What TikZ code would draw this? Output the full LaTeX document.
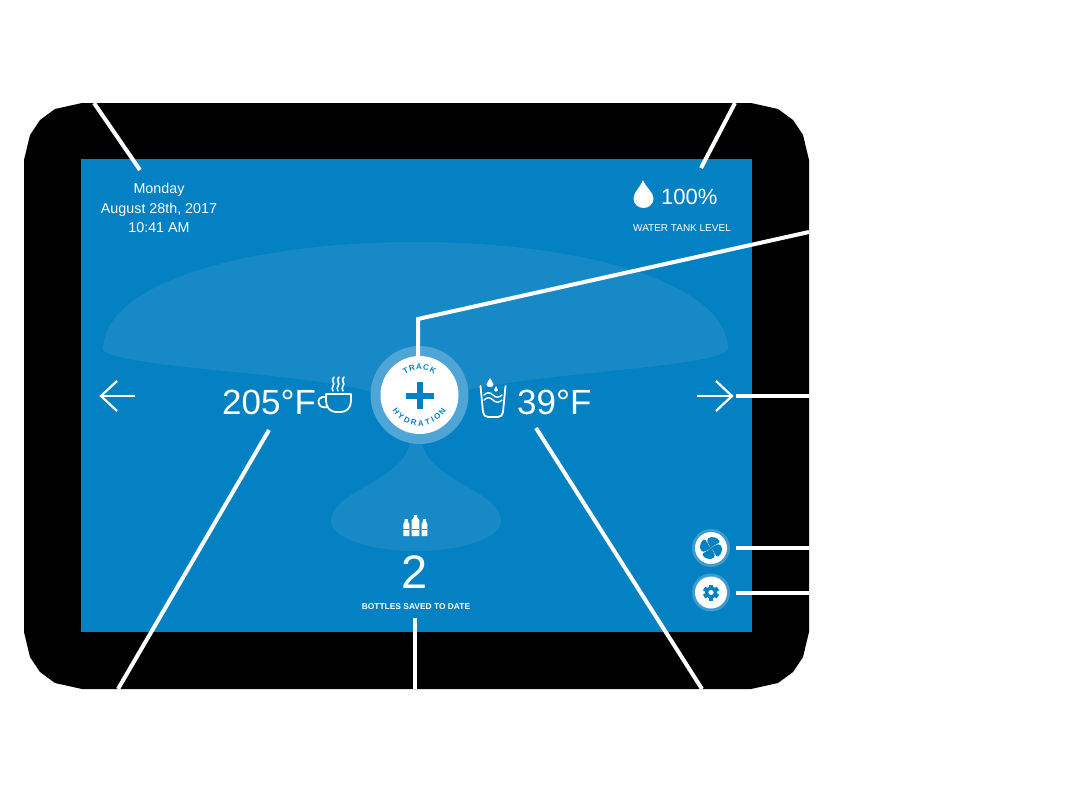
\documentclass[tikz,border=0pt]{standalone}
\usepackage{fontspec}
\setmainfont{Liberation Sans}
\usetikzlibrary{decorations.text,arrows.meta}
\definecolor{scr}{HTML}{0381C2}
\definecolor{wave}{HTML}{1789C7}
\definecolor{halo}{HTML}{4FA5D5}
\definecolor{halob}{HTML}{3D9BD0}
\tikzset{
 callout/.style={draw=white,line width=4pt},
 lbl/.style={text=white,inner sep=0pt,align=center},
 iconw/.style={draw=white,line width=1.8pt,fill=none,line cap=round,line join=round},
 arrowline/.style={draw=white,line width=2.2pt,line join=miter},
 hal/.style={fill=halo,draw=none},
 disc/.style={fill=white,draw=none},
 numtxt/.style={lbl,font=\fontsize{35}{35}\selectfont}
}
\begin{document}
\begin{tikzpicture}[x=1pt,y=-1pt]
\useasboundingbox (0,0) rectangle (1075,798);
\fill[white] (0,0) rectangle (1075,798);
% tablet body
\fill[black] (82,103) -- (751,103) -- (778,109) -- (793,120) -- (803,135) -- (809,160) -- (809,632) -- (803,657) -- (793,672) -- (778,683) -- (751,689) -- (82,689) -- (55,683) -- (40,672) -- (30,657) -- (24,632) -- (24,160) -- (30,135) -- (40,120) -- (55,109) -- cycle;
\fill[scr] (81,159) rectangle (752,632);
% water drop backdrop
\fill[wave] (416,242) .. controls (250,242) and (103,282) .. (103,350)
  .. controls (120,368) and (300,372) .. (372,392) -- (460,392)
  .. controls (540,372) and (710,368) .. (728,350)
  .. controls (728,282) and (580,242) .. (416,242) -- cycle;
\fill[wave] (410,440) .. controls (408,480) and (331,490) .. (331,521)
  .. controls (331,538) and (370,551) .. (416,551)
  .. controls (462,551) and (501,538) .. (501,521)
  .. controls (501,490) and (424,480) .. (422,440) -- cycle;
% centre button
\node[circle,minimum size=98pt,inner sep=0pt,hal] (track) at (419.5,395) {};
\node[circle,minimum size=78pt,inner sep=0pt,disc] (trackdisc) at (419.5,395) {};
\fill[scr] (406,392.5) rectangle (434,398.5);
\fill[scr] (417,382) rectangle (423,409);
\path[postaction={decorate,decoration={text along path,text align={fit to path},
   text={|\fontsize{8}{8}\selectfont\bfseries\color{scr}|TRACK}}}]
   (405,374.3) arc[start angle=236,end angle=304,radius=26];
\path[postaction={decorate,decoration={text along path,text align={fit to path},
   text={|\fontsize{8}{8}\selectfont\bfseries\color{scr}|HYDRATION}}}]
   (392.5,410.5) arc[start angle=150,end angle=30,radius=31];
% texts
\node[lbl,font=\fontsize{14.3}{19.5}\selectfont] (date) at (159,208) {Monday\\August 28th, 2017\\10:41 AM};
\node[lbl,font=\fontsize{22}{22}\selectfont,anchor=base west] (tank) at (661,204) {100\%};
\node[lbl,font=\fontsize{10}{10}\selectfont] (tanklabel) at (682,228) {WATER TANK LEVEL};
\node[numtxt,anchor=base west] (hot) at (222,414) {205°F};
\node[numtxt,anchor=base west] (cold) at (517,414) {39°F};
\node[lbl,font=\fontsize{47}{47}\selectfont,anchor=base] (count) at (415,588) {2};
\node[lbl,font=\bfseries\fontsize{8.4}{9}\selectfont] (saved) at (416,607) {BOTTLES SAVED TO DATE};
% big drop
\fill[white] (643,180) .. controls (640,188) and (633.5,192) .. (633.5,198.5)
  .. controls (633.5,204) and (638,208) .. (643.5,208)
  .. controls (649,208) and (653.5,204) .. (653.5,198.5)
  .. controls (653.5,192) and (646,188) .. (643,180) -- cycle;
% cup
\draw[iconw] (326,394) -- (351,394) -- (351,401) .. controls (351,408) and (346,412) .. (341,412) -- (336,412) .. controls (331,412) and (326,408) .. (326,401) -- cycle;
\draw[iconw] (326,397) .. controls (320,396) and (317,400) .. (319,404) .. controls (320,407) and (324,408) .. (328,407);
\foreach \sx in {333,338,343}{
  \draw[iconw,line width=1.5pt] (\sx,391) .. controls (\sx-3,387) and (\sx+3,385) .. (\sx,381.5) .. controls (\sx-1,380) and (\sx,378) .. (\sx+1,377);
}
% glass
\draw[iconw] (480.5,386) -- (483,412) .. controls (483.5,415) and (485,417) .. (488,417) -- (498,417) .. controls (501,417) and (502.5,415) .. (503,412) -- (505.5,386);
\draw[iconw,line width=1.4pt] (484,395) .. controls (487,392) and (490,392) .. (493,395) .. controls (496,398) and (499,398) .. (502,395);
\draw[iconw,line width=1.4pt] (484,400) .. controls (487,397) and (490,397) .. (493,400) .. controls (496,403) and (499,403) .. (502,400);
\fill[white] (490,378) .. controls (489,381) and (486.5,382) .. (486.5,384.5) .. controls (486.5,388) and (493.5,388) .. (493.5,384.5) .. controls (493.5,382) and (491,381) .. (490,378) -- cycle;
\fill[white] (496,386) .. controls (495.5,388) and (494,388.5) .. (494,390) .. controls (494,392) and (498,392) .. (498,390) .. controls (498,388.5) and (496.5,388) .. (496,386) -- cycle;
% bottles
\foreach \bx/\bt/\bw in {406.3/519/3,415.5/515/3.8,424.5/519/2.8}{
  \fill[white] (\bx-\bw,536) -- (\bx-\bw,\bt+5) -- (\bx-1.6,\bt+2.5) -- (\bx-1.6,\bt) -- (\bx+1.6,\bt) -- (\bx+1.6,\bt+2.5) -- (\bx+\bw,\bt+5) -- (\bx+\bw,536) -- cycle;
  \fill[wave] (\bx-\bw,529) rectangle (\bx+\bw,530);
}
% arrows
\draw[arrowline] (135,396) -- (101,396);
\draw[arrowline] (117,381) -- (101,396) -- (117,411);
\draw[arrowline] (697,396) -- (732,396);
\draw[arrowline] (716,381) -- (732,396) -- (716,411);
% fan and gear buttons
\node[circle,minimum size=38pt,inner sep=0pt,fill=halob] (fan) at (711,548) {};
\node[circle,minimum size=32pt,inner sep=0pt,disc] (fandisc) at (711,548) {};
\foreach \a in {0,90,180,270}{
  \fill[scr,rotate around={\a:(711,548)}] (711,548) .. controls (709,545) and (706,541) .. (708,538.5) .. controls (711,535.5) and (718,537.5) .. (719.5,541) .. controls (720,544) and (714,544) .. (711,548) -- cycle;
}
\node[circle,minimum size=38pt,inner sep=0pt,fill=halob] (gear) at (711,592.5) {};
\node[circle,minimum size=32pt,inner sep=0pt,disc] (geardisc) at (711,592.5) {};
\fill[scr] (711,592.5) circle[radius=6];
\foreach \a in {0,60,...,300}{
  \fill[scr,rotate around={\a:(711,592.5)}] (708.8,584.5) rectangle (713.2,589);
}
\fill[white] (711,592.5) circle[radius=2.6];
% callouts
\coordinate (e1) at (94,103);
\coordinate (d1) at (140,170);
\coordinate (e2) at (735,103);
\coordinate (d2) at (701,168);
\coordinate (e3) at (809,232);
\coordinate (b3) at (418,319);
\coordinate (d3) at (418,356);
\coordinate (e4) at (809,396);
\coordinate (d4) at (736,396);
\coordinate (e5) at (809,548);
\coordinate (d5) at (736,548);
\coordinate (e6) at (809,593);
\coordinate (d6) at (736,593);
\coordinate (e7) at (415,689);
\coordinate (d7) at (415,618);
\coordinate (e8) at (702,689);
\coordinate (d8) at (536,428);
\coordinate (e9) at (118,689);
\coordinate (d9) at (269,430);
\draw[callout] (e1) -- (d1);
\draw[callout] (e2) -- (d2);
\draw[callout,line join=miter] (e3) -- (b3) -- (d3);
\draw[callout] (e4) -- (d4);
\draw[callout] (e5) -- (d5);
\draw[callout] (e6) -- (d6);
\draw[callout] (e7) -- (d7);
\draw[callout] (e8) -- (d8);
\draw[callout] (e9) -- (d9);
\end{tikzpicture}
\end{document}
